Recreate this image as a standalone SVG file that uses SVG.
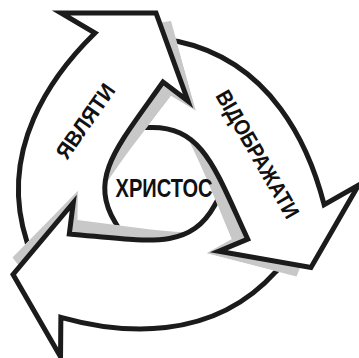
<svg xmlns="http://www.w3.org/2000/svg" width="359" height="358" viewBox="0 0 359 358">
<defs>
<style>
.shd{fill:#c8c8c8}
.body{fill:#fff;stroke:#1b1b1b;stroke-width:5;stroke-linejoin:miter;stroke-miterlimit:10}
text{font-family:"Liberation Sans",Arial,sans-serif;font-weight:bold;fill:#111}
</style>
<path id="arr" d="M 33,262 L 27,242 C -3,150 52,75 95,33 L 61,13 L 156,13 L 188,101 L 163,82 C 118,146 88,177 115,222 L 130,248 Z"/>
<path id="shd" d="M 150,24 L 171,21 L 196,111 L 171,96 C 145,130 121,160 106,184 L 98,150 Z"/>
<mask id="m" maskUnits="userSpaceOnUse" x="-400" y="-400" width="1200" height="1200">
<rect x="-400" y="-400" width="1200" height="1200" fill="#fff"/>
<g transform="rotate(240 160 185)" fill="#000">
<use href="#arr" stroke="#000" stroke-width="5"/>
<use href="#shd"/>
</g>
</mask>
</defs>
<rect width="359" height="358" fill="#fff"/>
<g id="connectors">
<g id="arrow-yavlyaty"><g mask="url(#m)"><use href="#shd" class="shd"/><use href="#arr" class="body"/></g></g>
<g id="arrow-vidobrazhaty" transform="rotate(120 160 185)"><g mask="url(#m)"><use href="#shd" class="shd"/><use href="#arr" class="body"/></g></g>
<g id="arrow-return" transform="rotate(240 160 185)"><g mask="url(#m)"><use href="#shd" class="shd"/><use href="#arr" class="body"/></g></g>
</g>
<g id="label-yavlyaty" transform="translate(85,121) rotate(-55)"><text x="0" y="8" font-size="22" text-anchor="middle" textLength="86" lengthAdjust="spacingAndGlyphs">ЯВЛЯТИ</text></g>
<g id="label-vidobrazhaty" transform="translate(258,154) rotate(60)"><text x="0" y="8" font-size="22" text-anchor="middle" textLength="144" lengthAdjust="spacingAndGlyphs">ВІДОБРАЖАТИ</text></g>
<g id="node-khrystos"><text x="164" y="196.5" font-size="25" text-anchor="middle" textLength="97" lengthAdjust="spacingAndGlyphs">ХРИСТОС</text></g>
</svg>
